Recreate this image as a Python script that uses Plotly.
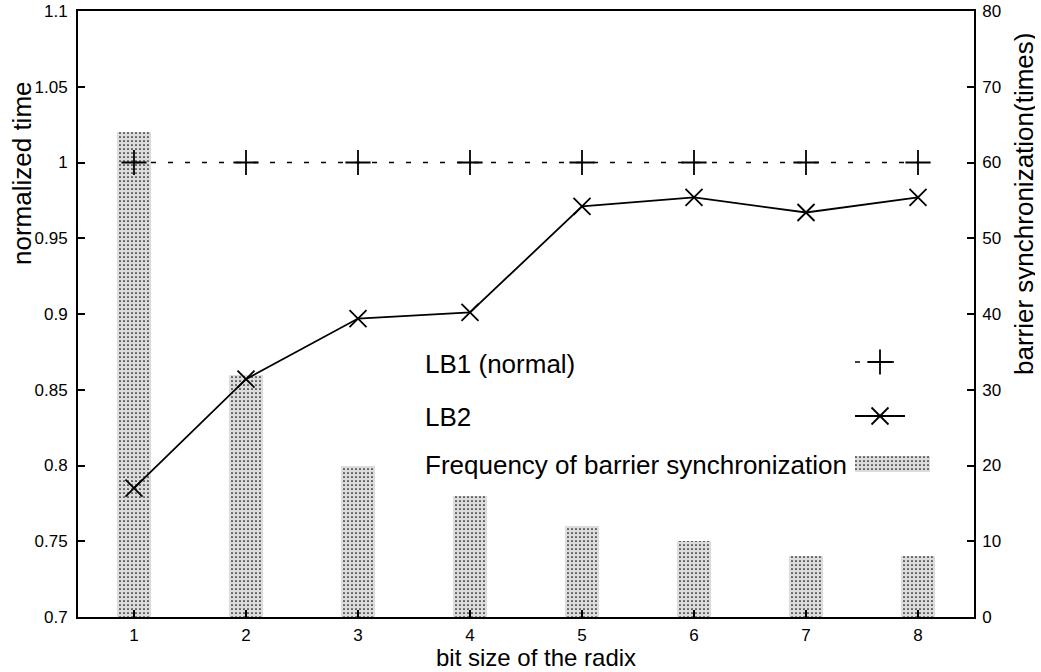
import plotly.graph_objects as go

radix_bits = [1, 2, 3, 4, 5, 6, 7, 8]
lb1_time = [1, 1, 1, 1, 1, 1, 1, 1]
lb2_time = [0.785, 0.857, 0.897, 0.901, 0.971, 0.977, 0.967, 0.977]
barrier_freq = [64, 32, 20, 16, 12, 10, 8, 8]

left_ticks = [0.7, 0.75, 0.8, 0.85, 0.9, 0.95, 1.0, 1.05, 1.1]
left_ticktext = ["0.7", "0.75", "0.8", "0.85", "0.9", "0.95", "1", "1.05", "1.1"]
right_ticks = [0, 10, 20, 30, 40, 50, 60, 70, 80]

FONT = "Liberation Sans, Arial, Helvetica, sans-serif"
BIG = 26
TICK = 17
pattern = dict(shape=".", fgcolor="#000000", bgcolor="#dcdcdc", size=4, solidity=0.14, fillmode="replace")

W, H = 1041, 672
L, R, T, B = 78, 67, 11, 55
pw, ph = W - L - R, H - T - B


def pap_x(X):
    return (X - L) / pw


def pap_y(Y):
    return (H - B - Y) / ph


fig = go.Figure()

# bars on primary y (right side) so the lines on the overlaying axis draw above them
fig.add_trace(go.Bar(
    x=radix_bits, y=barrier_freq, width=0.31,
    marker=dict(color="#dcdcdc", line=dict(width=0), pattern=pattern),
    xaxis="x", yaxis="y", showlegend=False))

fig.add_trace(go.Scatter(
    x=radix_bits, y=lb1_time, mode="lines+markers",
    line=dict(color="black", width=1.5, dash="5px,12px"),
    marker=dict(symbol="cross-thin", size=18, line=dict(color="black", width=1.8)),
    xaxis="x", yaxis="y2", showlegend=False))

fig.add_trace(go.Scatter(
    x=radix_bits, y=lb2_time, mode="lines+markers",
    line=dict(color="black", width=1.8),
    marker=dict(symbol="x-thin", size=17, line=dict(color="black", width=1.8)),
    xaxis="x", yaxis="y2", showlegend=False))

# custom key (text left, sample right, as in the original)
lx0, lx1, lxc, bx1 = pap_x(855), pap_x(905), pap_x(880), pap_x(930)
y_lb1, y_lb2, y_f0, y_f1, y_fc = pap_y(362), pap_y(416), pap_y(472), pap_y(456), pap_y(465)

fig.add_trace(go.Scatter(
    x=[lx0, lx1], y=[y_lb1, y_lb1], mode="lines",
    line=dict(color="black", width=1.5, dash="5px,12px"),
    xaxis="x3", yaxis="y3", showlegend=False, hoverinfo="skip"))
fig.add_trace(go.Scatter(
    x=[lxc], y=[y_lb1], mode="markers",
    marker=dict(symbol="cross-thin", size=18, line=dict(color="black", width=1.8)),
    xaxis="x3", yaxis="y3", showlegend=False, hoverinfo="skip"))
fig.add_trace(go.Scatter(
    x=[lx0, lx1], y=[y_lb2, y_lb2], mode="lines",
    line=dict(color="black", width=1.8),
    xaxis="x3", yaxis="y3", showlegend=False, hoverinfo="skip"))
fig.add_trace(go.Scatter(
    x=[lxc], y=[y_lb2], mode="markers",
    marker=dict(symbol="x-thin", size=17, line=dict(color="black", width=1.8)),
    xaxis="x3", yaxis="y3", showlegend=False, hoverinfo="skip"))
fig.add_trace(go.Scatter(
    x=[lx0, bx1, bx1, lx0, lx0], y=[y_f0, y_f0, y_f1, y_f1, y_f0], mode="lines",
    fill="toself", fillcolor="#dcdcdc", fillpattern=pattern,
    line=dict(width=0, color="rgba(0,0,0,0)"),
    xaxis="x3", yaxis="y3", showlegend=False, hoverinfo="skip"))

legend_texts = ["LB1 (normal)", "LB2", "Frequency of barrier synchronization"]
legend_ys = [pap_y(364), pap_y(417), y_fc]
for t, yy in zip(legend_texts, legend_ys):
    fig.add_annotation(
        x=pap_x(423), y=yy, xref="paper", yref="paper", text=t, showarrow=False,
        xanchor="left", yanchor="middle", font=dict(family=FONT, size=BIG, color="black"))

fig.add_annotation(x=pap_x(536), y=pap_y(657), xref="paper", yref="paper",
                   text="bit size of the radix", showarrow=False,
                   xanchor="center", yanchor="middle", height=22, valign="middle",
                   font=dict(family=FONT, size=24, color="black"))
fig.add_annotation(x=pap_x(22), y=pap_y(173), xref="paper", yref="paper", text="normalized time",
                   textangle=-90, showarrow=False, xanchor="center", yanchor="middle",
                   height=22, valign="middle",
                   font=dict(family=FONT, size=BIG, color="black"))
fig.add_annotation(x=pap_x(1024), y=pap_y(204), xref="paper", yref="paper",
                   text="barrier synchronization(times)",
                   textangle=-90, showarrow=False, xanchor="center", yanchor="middle",
                   height=22, valign="middle",
                   font=dict(family=FONT, size=BIG, color="black"))

axis_common = dict(showgrid=False, zeroline=False, ticks="inside", ticklen=7, tickwidth=1.5,
                   tickcolor="black", showline=True, linecolor="black", linewidth=1.8,
                   automargin=False,
                   tickfont=dict(family=FONT, size=TICK, color="black"))

fig.update_layout(
    width=W, height=H,
    margin=dict(l=L, r=R, t=T, b=B, autoexpand=False),
    paper_bgcolor="white", plot_bgcolor="white",
    showlegend=False,
    bargap=0,
    xaxis=dict(range=[0.5, 8.5], tickvals=radix_bits, mirror=True, ticklabelstandoff=2, **axis_common),
    yaxis=dict(range=[0, 80], tickvals=right_ticks, side="right", mirror=True, ticklabelstandoff=3, **axis_common),
    yaxis2=dict(range=[0.7, 1.1], tickvals=left_ticks, ticktext=left_ticktext, side="left",
                overlaying="y", anchor="x", ticklabelstandoff=5, **axis_common),
    xaxis3=dict(range=[0, 1], overlaying="x", visible=False, anchor="y3"),
    yaxis3=dict(range=[0, 1], overlaying="y", visible=False, anchor="x3"),
)

fig.write_html("out.html", config={"displayModeBar": False},
               post_script="document.body.style.margin='0px';")
